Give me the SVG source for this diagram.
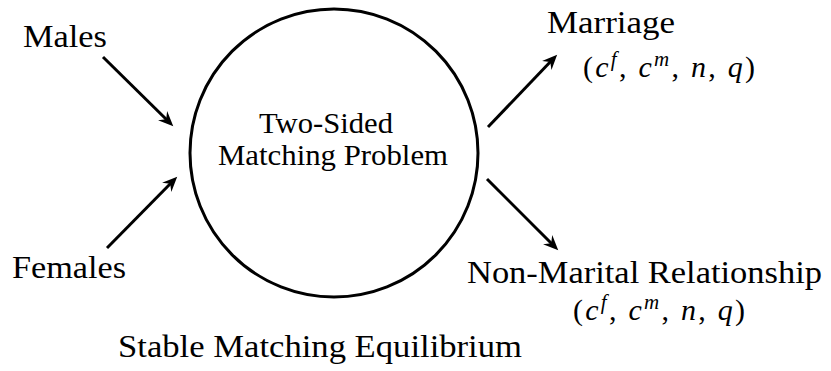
<svg xmlns="http://www.w3.org/2000/svg" width="831" height="371" viewBox="0 0 831 371">
<style>
  .t { font-family: 'Liberation Serif', 'Times New Roman', serif; fill: #000; }
  .lbl { font-size: 32px; }
  .ctr { font-size: 29px; text-anchor: middle; }
  .math { font-size: 30px; }
  .v { font-style: italic; }
  .sup { font-size: 21px; font-style: italic; }
  .edge { stroke: #000; stroke-width: 3; fill: none; marker-end: url(#ah); }
</style>
<defs>
  <marker id="ah" markerUnits="userSpaceOnUse" markerWidth="30" markerHeight="30" viewBox="-20 -10 30 20" refX="0" refY="0" orient="auto" overflow="visible">
    <path d="M6,0 L-9,-6.5 L-4,0 L-9,6.5 Z" fill="#000"/>
  </marker>
</defs>
<rect width="831" height="371" fill="#fff"/>
<g id="males"><text class="t lbl" x="23" y="47" textLength="84" lengthAdjust="spacingAndGlyphs">Males</text></g>
<g id="females"><text class="t lbl" x="12" y="278" textLength="114" lengthAdjust="spacingAndGlyphs">Females</text></g>
<g id="problem">
  <circle cx="334" cy="153" r="144" fill="none" stroke="#000" stroke-width="3"/>
  <text class="t ctr" x="326" y="133" textLength="134" lengthAdjust="spacingAndGlyphs">Two-Sided</text>
  <text class="t ctr" x="333" y="165" textLength="230" lengthAdjust="spacingAndGlyphs">Matching Problem</text>
</g>
<g id="marriage">
  <text class="t lbl" x="547" y="33" textLength="128" lengthAdjust="spacingAndGlyphs">Marriage</text>
  <text class="t math" x="583" y="77" textLength="172" lengthAdjust="spacing">(<tspan class="v">c</tspan><tspan class="sup" dy="-11">f</tspan><tspan dy="11">, </tspan><tspan class="v">c</tspan><tspan class="sup" dy="-11">m</tspan><tspan dy="11">, </tspan><tspan class="v">n</tspan>, <tspan class="v">q</tspan>)</text>
</g>
<g id="nonmarital">
  <text class="t lbl" x="467" y="283" textLength="355" lengthAdjust="spacingAndGlyphs">Non-Marital Relationship</text>
  <text class="t math" x="573" y="320" textLength="172" lengthAdjust="spacing">(<tspan class="v">c</tspan><tspan class="sup" dy="-11">f</tspan><tspan dy="11">, </tspan><tspan class="v">c</tspan><tspan class="sup" dy="-11">m</tspan><tspan dy="11">, </tspan><tspan class="v">n</tspan>, <tspan class="v">q</tspan>)</text>
</g>
<g id="equilibrium"><text class="t lbl" x="118" y="357" textLength="404" lengthAdjust="spacingAndGlyphs">Stable Matching Equilibrium</text></g>
<g id="connectors">
  <line class="edge" x1="103" y1="57" x2="169" y2="122"/>
  <line class="edge" x1="107" y1="248" x2="173" y2="181"/>
  <line class="edge" x1="488" y1="127" x2="553" y2="59"/>
  <line class="edge" x1="487" y1="179" x2="554" y2="246"/>
</g>
</svg>
